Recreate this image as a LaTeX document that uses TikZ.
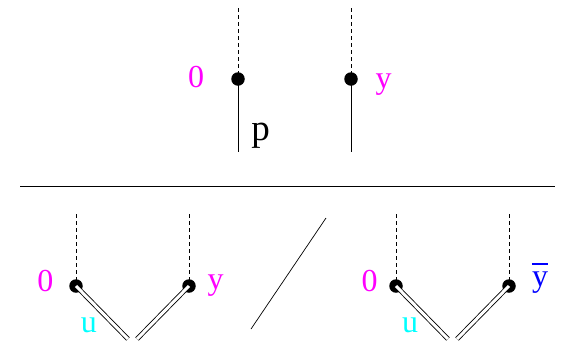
\documentclass[tikz,border=0pt]{standalone}
\usepackage{fontspec}
\setmainfont{Liberation Serif}
\definecolor{mag}{RGB}{255,0,255}
\definecolor{cyn}{RGB}{0,255,255}
\definecolor{blu}{RGB}{0,0,255}
\begin{document}
\begin{tikzpicture}[x=1pt,y=-1pt,
  dot/.style={circle,fill=black,inner sep=0pt,minimum size=13.5pt},
  lbl/.style={font=\fontsize{32}{36}\selectfont,inner sep=0pt},
  dashline/.style={dashed,dash pattern=on 4pt off 3pt,line width=0.7pt},
  solidline/.style={line width=0.7pt},
  dbl/.style={double,double distance=3pt,line width=0.85pt}]
\useasboundingbox (0,0) rectangle (566,341);
% top
\coordinate (t1) at (238,8);
\coordinate (t2) at (351,8);
\node[dot] (d1) at (238,79) {};
\node[dot] (d2) at (351,79) {};
\coordinate (b1) at (238,152);
\coordinate (b2) at (351,152);
\draw[dashline] (t1) -- (d1.center);
\draw[dashline] (t2) -- (d2.center);
\draw[solidline] (d1.center) -- (b1);
\draw[solidline] (d2.center) -- (b2);
\node[lbl,text=mag] (z1) at (196,77) {0};
\node[lbl,text=mag] (y1) at (383.5,85) {y};
\node[lbl,font=\fontsize{37}{41}\selectfont] (p) at (260.5,135.5) {p};
% separator
\coordinate (hl) at (20,186);
\coordinate (hr) at (555,186);
\draw[solidline] (hl) -- (hr);
% bottom left
\coordinate (t3) at (76,214);
\coordinate (t4) at (189,214);
\node[dot] (d3) at (76,286) {};
\node[dot] (d4) at (189,286) {};
\coordinate (e3) at (128,339);
\coordinate (e4) at (137,339);
\draw[dashline] (t3) -- (d3.center);
\draw[dashline] (t4) -- (d4.center);
\draw[dbl] (d3.center) -- (e3);
\draw[dbl] (d4.center) -- (e4);
\node[lbl,text=mag] (z3) at (45.5,281.5) {0};
\node[lbl,text=mag] (y3) at (215.5,286) {y};
\node[lbl,text=cyn] (u3) at (89,325) {u};
% slash
\coordinate (s1) at (251,329);
\coordinate (s2) at (326,218);
\draw[solidline] (s1) -- (s2);
% bottom right
\coordinate (t5) at (396,214);
\coordinate (t6) at (509,214);
\node[dot] (d5) at (396,286) {};
\node[dot] (d6) at (509,286) {};
\coordinate (e5) at (448,339);
\coordinate (e6) at (457,339);
\draw[dashline] (t5) -- (d5.center);
\draw[dashline] (t6) -- (d6.center);
\draw[dbl] (d5.center) -- (e5);
\draw[dbl] (d6.center) -- (e6);
\node[lbl,text=mag] (z5) at (369.5,281.5) {0};
\node[lbl,text=blu] (y6) at (540,283) {y};
\draw[blu,line width=1.3pt] ([yshift=8pt]y6.north west) -- ([yshift=8pt]y6.north east);
\node[lbl,text=cyn] (u5) at (410,325) {u};
\end{tikzpicture}
\end{document}
